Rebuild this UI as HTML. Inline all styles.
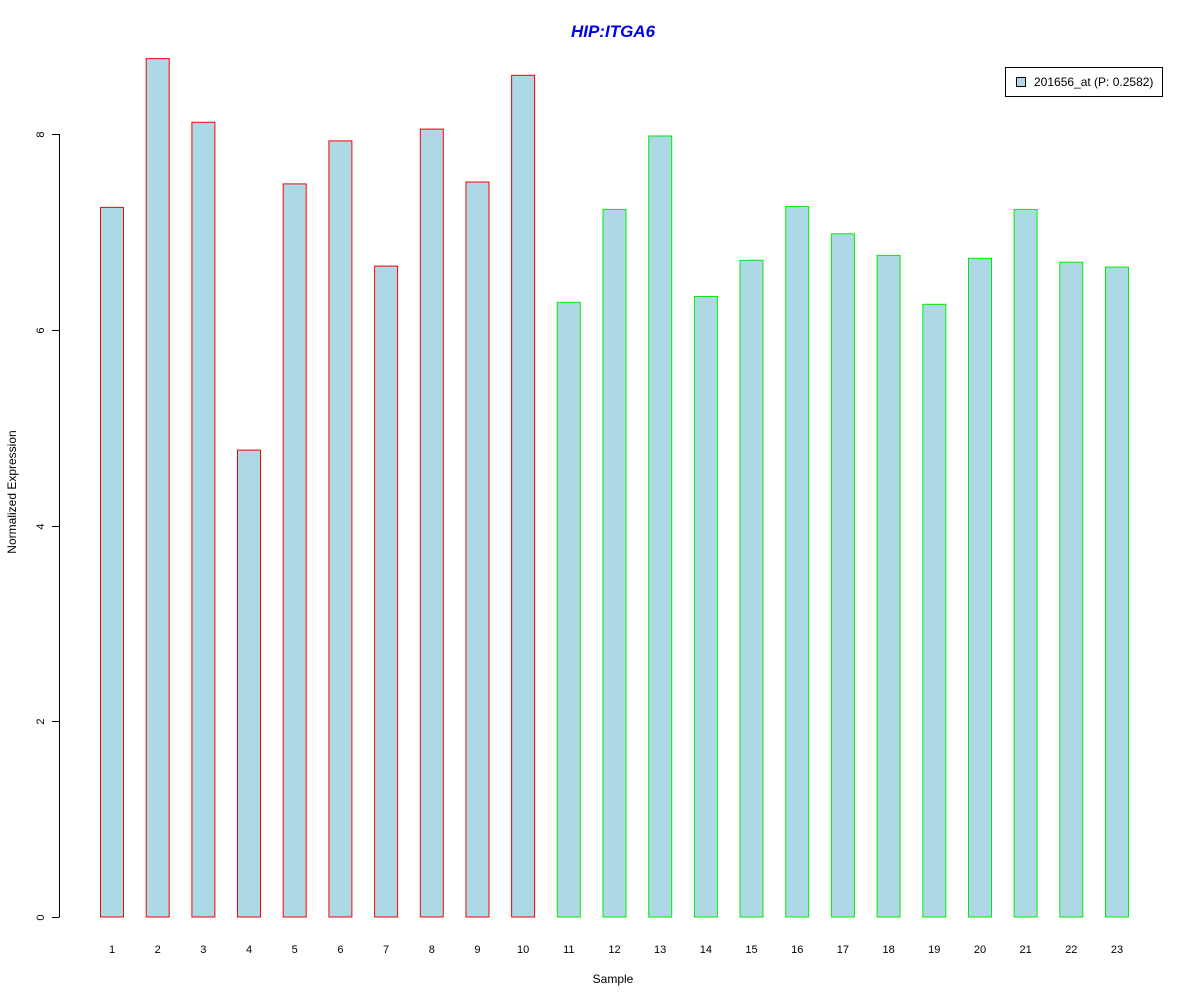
<!DOCTYPE html>
<html><head><meta charset="utf-8"><style>
html,body{margin:0;padding:0;background:#fff;}
svg{display:block;font-family:"Liberation Sans",Arial,sans-serif;}
</style></head><body>
<svg id="chart" width="1200" height="1000" viewBox="0 0 1200 1000">
<rect width="1200" height="1000" fill="#fff"/>
<text x="613" y="37" text-anchor="middle" font-size="17" font-weight="bold" font-style="italic" fill="#0000ee">HIP:ITGA6</text>
<g id="yaxis"></g>
<g id="bars"></g>
<g id="xlabels"></g>
<text x="613" y="983" text-anchor="middle" font-size="12">Sample</text>
<text transform="translate(16,492) rotate(-90)" text-anchor="middle" font-size="12">Normalized Expression</text>
<g>
<rect x="1005.5" y="67.5" width="157" height="29" fill="#fff" stroke="#000"/>
<rect x="1016.5" y="77.5" width="9" height="9" fill="#add8e6" stroke="#000"/>
<text x="1034" y="86" font-size="12">201656_at (P: 0.2582)</text>
</g>
</svg>
<script>
const categories=["1","2","3","4","5","6","7","8","9","10","11","12","13","14","15","16","17","18","19","20","21","22","23"];
const values=[7.25,8.77,8.12,4.77,7.49,7.93,6.65,8.05,7.51,8.60,6.28,7.23,7.98,6.34,6.71,7.26,6.98,6.76,6.26,6.73,7.23,6.69,6.64];
const groups=["red","red","red","red","red","red","red","red","red","red","green","green","green","green","green","green","green","green","green","green","green","green","green"];
const yTicks=[0,2,4,6,8];
const NS="http://www.w3.org/2000/svg";
const y0=917, pxPerUnit=(917-134)/8;
function yScale(v){return y0-v*pxPerUnit;}
const x1=112, xStep=(1117-112)/22, bw=23;
function xScale(i){return x1+i*xStep;}
const colors={red:"#ff0000",green:"#00ee00"};
const bars=document.getElementById('bars');
values.forEach((v,i)=>{
  const r=document.createElementNS(NS,'rect');
  
  
  const top=yScale(v);
  r.setAttribute('x',(xScale(i)-bw/2).toFixed(1));
  r.setAttribute('y',top.toFixed(1));
  r.setAttribute('width',bw);
  r.setAttribute('height',(y0-top).toFixed(1));
  r.setAttribute('fill','#add8e6');
  r.setAttribute('stroke',colors[groups[i]]);
  bars.appendChild(r);
});
const xl=document.getElementById('xlabels');
categories.forEach((c,i)=>{
  const t=document.createElementNS(NS,'text');
  
  
  t.setAttribute('x',xScale(i));
  t.setAttribute('y',953);
  t.setAttribute('text-anchor','middle');
  t.setAttribute('font-size','11');
  t.textContent=c;
  xl.appendChild(t);
});
const ya=document.getElementById('yaxis');
const ln=document.createElementNS(NS,'line');


ln.setAttribute('x1',59.5);ln.setAttribute('x2',59.5);
ln.setAttribute('y1',yScale(yTicks[0]));ln.setAttribute('y2',yScale(yTicks[yTicks.length-1]));
ln.setAttribute('stroke','#000');
ya.appendChild(ln);
yTicks.forEach(v=>{
  const y=Math.round(yScale(v))+0.5;
  const tk=document.createElementNS(NS,'line');
  
  
  tk.setAttribute('x1',52);tk.setAttribute('x2',59.5);
  tk.setAttribute('y1',y);tk.setAttribute('y2',y);
  tk.setAttribute('stroke','#000');
  ya.appendChild(tk);
  const t=document.createElementNS(NS,'text');
  
  
  t.setAttribute('transform','translate(44,'+y+') rotate(-90)');
  t.setAttribute('text-anchor','middle');
  t.setAttribute('font-size','11');
  t.textContent=v;
  ya.appendChild(t);
});
</script>
</body></html>
